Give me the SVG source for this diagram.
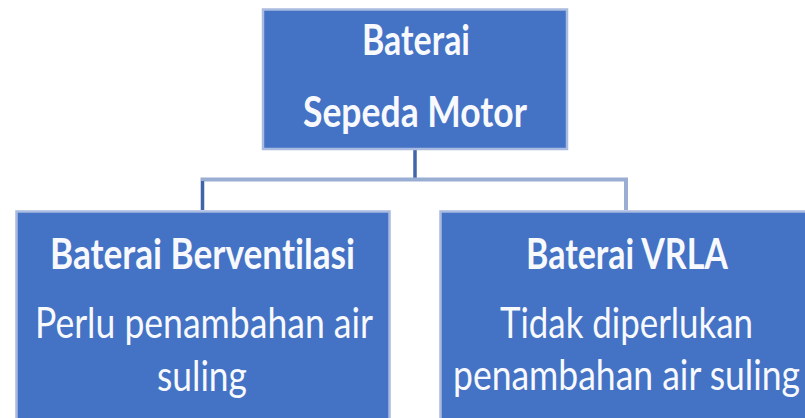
<svg xmlns="http://www.w3.org/2000/svg" width="805" height="418" viewBox="0 0 805 418">
<style>
.box{fill:#4472C4;stroke:#a9bbe0;stroke-width:2.5}
.t{font-family:Lato,"Open Sans","Liberation Sans",sans-serif;font-size:42px;fill:#f7f9fd;font-variant-ligatures:none}
.b{font-weight:bold}
.c{fill:none;stroke-linecap:butt}
</style>
<rect width="805" height="418" fill="#ffffff"/>
<g id="connectors">
<path class="c" d="M415 150 V180" stroke="#4264a8" stroke-width="3.5"/>
<path class="c" d="M202.5 210 V179.5 H626 V210" stroke="#9aaed4" stroke-width="4"/>
<path class="c" d="M202.5 181 V210" stroke="#4264a8" stroke-width="3"/>
</g>
<g id="root">
<rect class="box" x="263" y="9.5" width="304" height="139.5"/>
<text class="t b" x="362" y="55" textLength="108" lengthAdjust="spacingAndGlyphs">Baterai</text>
<text class="t b" x="303" y="127" textLength="224" lengthAdjust="spacingAndGlyphs">Sepeda Motor</text>
</g>
<g id="berventilasi">
<rect class="box" x="16.5" y="211.5" width="373" height="220"/>
<text class="t b" x="50" y="269" textLength="305" lengthAdjust="spacingAndGlyphs">Baterai Berventilasi</text>
<text class="t" x="35" y="338" textLength="338" lengthAdjust="spacingAndGlyphs">Perlu penambahan air</text>
<text class="t" x="157" y="391" textLength="90" lengthAdjust="spacingAndGlyphs">suling</text>
</g>
<g id="vrla">
<rect class="box" x="440.5" y="211.5" width="400" height="220"/>
<text class="t b" x="526" y="269" textLength="202" lengthAdjust="spacingAndGlyphs">Baterai VRLA</text>
<text class="t" x="500" y="338" textLength="253" lengthAdjust="spacingAndGlyphs">Tidak diperlukan</text>
<text class="t" x="453" y="390" textLength="347" lengthAdjust="spacingAndGlyphs">penambahan air suling</text>
</g>
</svg>
